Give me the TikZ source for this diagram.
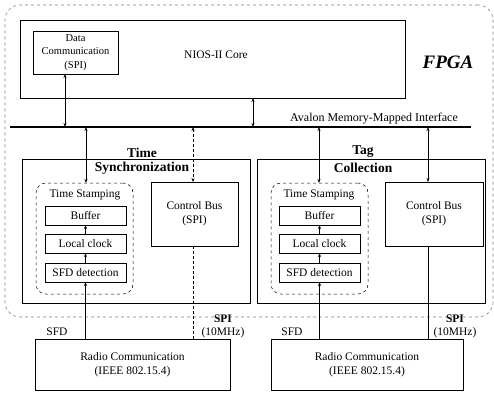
\documentclass[tikz,border=0pt]{standalone}
\usepackage{fontspec}
\setmainfont{Liberation Serif}
\usetikzlibrary{arrows.meta}
\begin{document}
\begin{tikzpicture}[x=1pt,y=-1pt,
  every node/.style={inner sep=0pt,outer sep=0pt},
  box/.style={draw,line width=0.9pt,align=center,font=\fontsize{11.5}{14}\selectfont},
  stampbox/.style={draw,dashed,line width=0.5pt,rounded corners=10pt},
  modbox/.style={draw,line width=0.9pt},
  lbl/.style={align=center,font=\fontsize{11.5}{13}\selectfont},
  ttl/.style={font=\bfseries\fontsize{13.5}{15}\selectfont},
  dbl/.style={line width=0.8pt,{Stealth[length=4pt,width=3pt]}-{Stealth[length=4pt,width=3pt]}},
  sgl/.style={line width=0.8pt,-{Stealth[length=4pt,width=3pt]}},
  pln/.style={line width=0.8pt}]
\useasboundingbox (0,0) rectangle (494,392);
% FPGA container
\node[draw,dashed,gray,line width=0.6pt,rounded corners=15pt,minimum width=488pt,minimum height=312pt] (fpga) at (249,161) {};
\node[font=\bfseries\itshape\fontsize{19}{21}\selectfont] (fpgat) at (448,62) {FPGA};
% NIOS
\node[modbox,minimum width=385pt,minimum height=78pt] (nios) at (212.5,59) {};
\node[lbl] (niost) at (216,55) {NIOS-II Core};
\node[box,font=\fontsize{10.5}{13.5}\selectfont,minimum width=85pt,minimum height=43pt] (data) at (75.5,52.5) {Data\\Communication\\(SPI)};
% bus
\coordinate (busL) at (10,127);
\coordinate (busR) at (471,127);
\draw[line width=2.6pt] (busL) -- (busR);
\node[lbl,font=\fontsize{12}{14}\selectfont,anchor=south] (avalon) at (374,124) {Avalon Memory-Mapped Interface};
% module boxes
\node[modbox,minimum width=228pt,minimum height=144pt] (tsync) at (136,231) {};
\node[modbox,minimum width=228pt,minimum height=144pt] (tcoll) at (371,231) {};
\node[ttl] (tsyncA) at (142,153) {Time};
\node[ttl] (tsyncB) at (142,168) {Synchronization};
\node[ttl] (tcollA) at (363,152) {Tag};
\node[ttl] (tcollB) at (363,168) {Collection};
% time stamping left
\node[stampbox,minimum width=97pt,minimum height=111pt] (stL) at (84.5,238.5) {};
\node[lbl] (stLt) at (85,195) {Time Stamping};
\node[box,minimum width=81pt,minimum height=19pt] (bufL) at (85.5,215.5) {Buffer};
\node[box,minimum width=81pt,minimum height=19pt] (locL) at (85.5,243.5) {Local clock};
\node[box,minimum width=81pt,minimum height=19pt] (sfdL) at (85.5,272.5) {SFD detection};
\node[box,minimum width=87pt,minimum height=64pt] (ctlL) at (194.5,214) {Control Bus\\(SPI)};
% time stamping right
\node[stampbox,minimum width=97pt,minimum height=111pt] (stR) at (319.5,238.5) {};
\node[lbl] (stRt) at (319,195) {Time Stamping};
\node[box,minimum width=81pt,minimum height=19pt] (bufR) at (319.5,215.5) {Buffer};
\node[box,minimum width=81pt,minimum height=19pt] (locR) at (319.5,243.5) {Local clock};
\node[box,minimum width=81pt,minimum height=19pt] (sfdR) at (319.5,272.5) {SFD detection};
\node[box,minimum width=98pt,minimum height=64pt] (ctlR) at (434,214) {Control Bus\\(SPI)};
% radios
\node[box,minimum width=195pt,minimum height=51pt] (radL) at (132.5,364.5) {Radio Communication\\(IEEE 802.15.4)};
\node[box,minimum width=192pt,minimum height=51pt] (radR) at (367,364.5) {Radio Communication\\(IEEE 802.15.4)};
% bus taps
\coordinate (b1) at (65,127);
\coordinate (b2) at (253,127);
\coordinate (b3) at (86,127);
\coordinate (b4) at (193,127);
\coordinate (b5) at (319,127);
\coordinate (b6) at (428,127);
\draw[dbl] (b1 |- data.south) -- (b1);
\draw[dbl] (b2 |- nios.south) -- (b2);
\draw[dbl] (b3) -- (b3 |- stL.north);
\draw[dbl,densely dashed] (b4) -- (b4 |- ctlL.north);
\draw[dbl] (b5) -- (b5 |- stR.north);
\draw[dbl] (b6) -- (b6 |- ctlR.north);
% inner chains
\draw[sgl] (locL.north) -- (bufL.south);
\draw[sgl] (sfdL.north) -- (locL.south);
\draw[sgl] (locR.north) -- (bufR.south);
\draw[sgl] (sfdR.north) -- (locR.south);
\draw[sgl] (radL.north -| sfdL.south) -- (sfdL.south);
\draw[sgl] (radR.north -| sfdR.south) -- (sfdR.south);
\draw[pln,densely dashed] (b4 |- ctlL.south) -- (b4 |- radL.north);
\draw[pln] (b6 |- ctlR.south) -- (b6 |- radR.north);
% labels
\node[lbl] (sfdLt) at (57,332) {SFD};
\node[lbl] (sfdRt) at (292,332) {SFD};
\node[lbl] (spiL) at (223,326) {\textbf{SPI}\\(10MHz)};
\node[lbl] (spiR) at (455,326) {\textbf{SPI}\\(10MHz)};
\end{tikzpicture}
\end{document}
